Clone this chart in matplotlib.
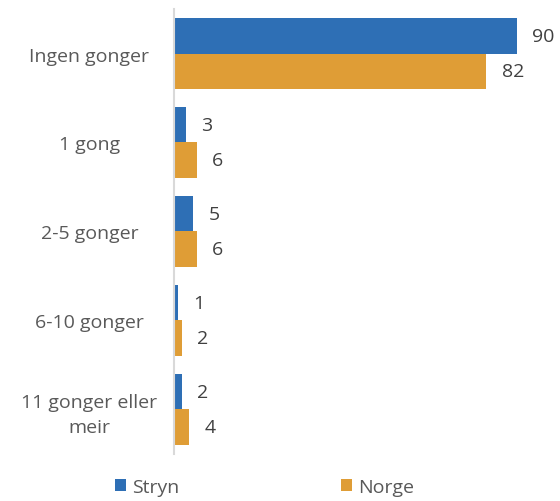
import matplotlib.pyplot as plt
import numpy as np

categories = ["Ingen gonger", "1 gong", "2-5 gonger", "6-10 gonger", "11 gonger eller\nmeir"]
stryn = [90, 3, 5, 1, 2]
norge = [82, 6, 6, 2, 4]

plt.rcParams["font.family"] = ["Open Sans", "DejaVu Sans"]

blue = "#2E6FB5"
orange = "#DF9D36"

fig = plt.figure(figsize=(5.6, 5.02), dpi=100)
ax = fig.add_axes([0.311, 0.094, 0.680, 0.886])

y = np.arange(len(categories))
h = 0.4
b1 = ax.barh(y - h / 2, stryn, height=h, color=blue, label="Stryn")
b2 = ax.barh(y + h / 2, norge, height=h, color=orange, label="Norge")

for bars, vals in ((b1, stryn), (b2, norge)):
    for bar, v in zip(bars, vals):
        ax.annotate(str(v), (bar.get_width(), bar.get_y() + bar.get_height() / 2),
                    xytext=(11, 0), textcoords="offset points",
                    va="center", ha="left", fontsize=14, color="#404040")

ax.set_xlim(0, 100)
ax.set_ylim(len(categories) - 0.5, -0.5)
ax.set_yticks(y)
ax.set_yticklabels(categories, fontsize=14, color="#595959", ha="center",
                   linespacing=1.5)
ax.tick_params(axis="y", length=0, pad=61)
ax.set_xticks([])
for side in ("top", "right", "bottom"):
    ax.spines[side].set_visible(False)
ax.spines["left"].set_color("#D9D9D9")
ax.spines["left"].set_linewidth(1.5)

fig.legend(handles=[b1, b2], loc="lower center", bbox_to_anchor=(0.472, -0.024),
           ncol=2, frameon=False, fontsize=14, labelcolor="#595959",
           handlelength=0.6, handleheight=0.6, handletextpad=0.3,
           columnspacing=8.3)

fig.savefig("out.png", dpi=100)
